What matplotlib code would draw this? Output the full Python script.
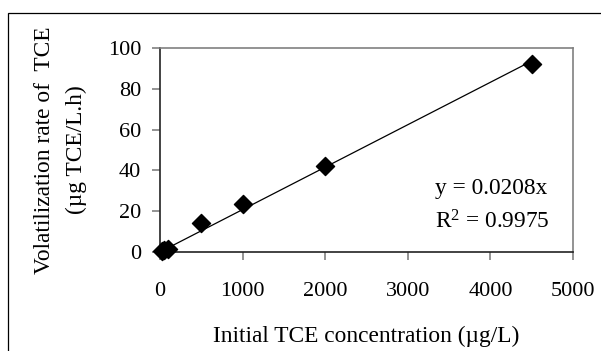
import numpy as np
import matplotlib.pyplot as plt
from matplotlib.patches import Rectangle

plt.rcParams['font.family'] = ['Liberation Serif', 'DejaVu Serif']
plt.rcParams['mathtext.fontset'] = 'custom'
plt.rcParams['mathtext.rm'] = 'Liberation Serif'
plt.rcParams['mathtext.it'] = 'Liberation Serif:italic'

# initial TCE concentration (ug/L) vs volatilization rate (ug TCE/L.h)
conc = [20, 50, 100, 500, 1000, 2000, 4500]
rate = [0.4, 0.9, 1.5, 14, 23.5, 42, 92]
slope = 0.0208
r2 = 0.9975

fig = plt.figure(figsize=(6.01, 3.51), dpi=100)
ax = fig.add_axes([160/601, 1 - 252/351, 413/601, 204/351])

# outer chart border (left and top edges show)
fig.patches.append(Rectangle((8/601, -0.1), 1.2, 1 - 13/351 + 0.1,
                             transform=fig.transFigure, fill=False,
                             edgecolor='black', linewidth=0.9))

xfit = np.array([0, max(conc)])
ax.plot(xfit, slope * xfit, color='black', linewidth=0.9, zorder=2)
ax.scatter(conc, rate, marker='D', s=85, color='black', zorder=3,
           clip_on=False)

ax.set_xlim(0, 5000)
ax.set_ylim(0, 100)
ax.set_xticks(range(0, 5001, 1000))
ax.set_yticks(range(0, 101, 20))
ax.tick_params(labelsize=16, direction='out', length=6, color='#808080',
               width=1.2)
ax.tick_params(axis='x', pad=15.5)
ax.tick_params(axis='y', pad=7.5)

for side in ['top', 'right']:
    ax.spines[side].set_color('#808080')
    ax.spines[side].set_linewidth(1.2)
for side in ['left', 'bottom']:
    ax.spines[side].set_color('#222222')
    ax.spines[side].set_linewidth(1.2)

ax.set_xlabel('Initial TCE concentration (\u00b5g/L)', fontsize=16.8,
              labelpad=18)
ax.set_ylabel('Volatilization rate of  TCE\n(\u00b5g TCE/L.h)', fontsize=16.8,
              labelpad=15, linespacing=1.65)

ax.text(0.666, 0.309, 'y = %.4fx' % slope, transform=ax.transAxes,
        fontsize=16.8, va='center')
ax.text(0.666, 0.147, 'R$^{2}$ = %.4f' % r2, transform=ax.transAxes,
        fontsize=16.8, va='center')

fig.savefig('out.png', dpi=100)
